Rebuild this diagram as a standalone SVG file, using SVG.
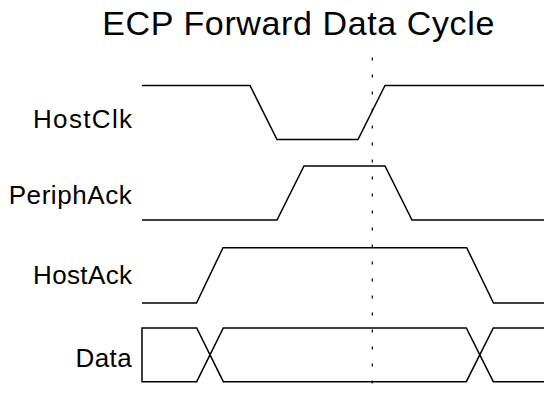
<svg xmlns="http://www.w3.org/2000/svg" width="544" height="397" viewBox="0 0 544 397">
<style>
.sig{fill:none;stroke:#000;stroke-width:1.5;stroke-linejoin:miter}
.lbl{font-family:"Liberation Sans",Arial,sans-serif;font-size:26px;fill:#000}
.title{font-family:"Liberation Sans",Arial,sans-serif;font-size:34px;fill:#000}
.guide{fill:none;stroke:#000;stroke-width:1.2;stroke-dasharray:3 14}
</style>
<rect width="544" height="397" fill="#fff"/>
<text class="title" x="102.3" y="35.3" textLength="392" lengthAdjust="spacing">ECP Forward Data Cycle</text>
<g id="HostClk">
<text class="lbl" x="33" y="128.4" textLength="99" lengthAdjust="spacing">HostClk</text>
<path class="sig" d="M142,85.5 H250 L277,139.5 H358 L385,85.5 H544"/>
</g>
<g id="PeriphAck">
<text class="lbl" x="8.7" y="204.2" textLength="123" lengthAdjust="spacing">PeriphAck</text>
<path class="sig" d="M142,220 H277 L304,166 H385 L412,220 H544"/>
</g>
<g id="HostAck">
<text class="lbl" x="33" y="284" textLength="99" lengthAdjust="spacing">HostAck</text>
<path class="sig" d="M142,303 H196.5 L223,247.7 H466.7 L493.5,303 H544"/>
</g>
<g id="Data">
<text class="lbl" x="75.6" y="367.2" textLength="56" lengthAdjust="spacing">Data</text>
<path class="sig" d="M544,328 H493.3 L466.3,381.7 H223.3 L196.7,328 H142 V381.7 H196.7 L223.3,328 H466.3 L493.3,381.7 H544"/>
</g>
<g id="connectors">
<line class="guide" x1="372.3" y1="57.5" x2="372.3" y2="384"/>
</g>
</svg>
